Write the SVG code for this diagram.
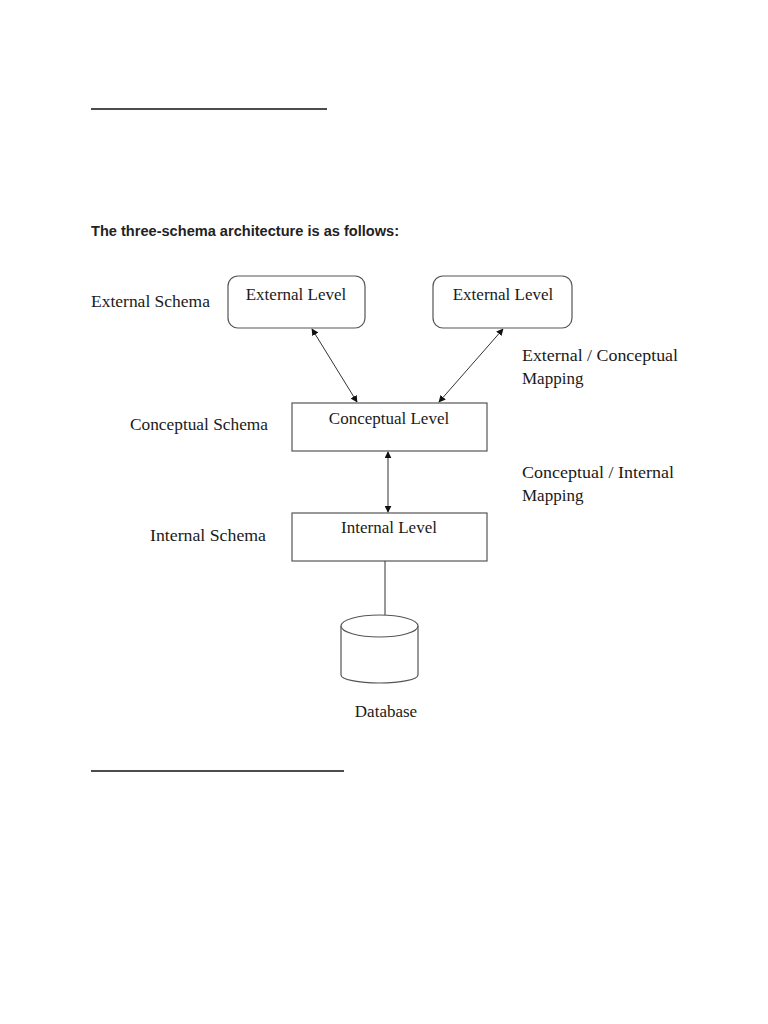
<svg xmlns="http://www.w3.org/2000/svg" width="768" height="1024" viewBox="0 0 768 1024">
<style>
.box{fill:#fff;stroke:#555;stroke-width:1.2}
.lbl{font-family:"Liberation Serif",serif;font-size:17px;fill:#1a1a1a}
.ctr{text-anchor:middle}
.con{stroke:#333;stroke-width:1;fill:none}
.rule{stroke:#111;stroke-width:1.6}
</style>
<defs>
<marker id="ah" viewBox="0 0 10 10" refX="9" refY="5" markerWidth="7" markerHeight="7" orient="auto-start-reverse" markerUnits="userSpaceOnUse">
<path d="M0,0 L10,5 L0,10 z" fill="#111"/>
</marker>
</defs>
<rect width="768" height="1024" fill="#fff"/>
<line class="rule" x1="91" y1="109" x2="327" y2="109"/>
<text x="91" y="236" font-family="'Liberation Sans',Arial,sans-serif" font-weight="bold" font-size="14.5" fill="#222" textLength="308" lengthAdjust="spacingAndGlyphs">The three-schema architecture is as follows:</text>
<text class="lbl" x="91" y="307" textLength="119" lengthAdjust="spacingAndGlyphs">External Schema</text>
<text class="lbl" x="522" y="361" textLength="156" lengthAdjust="spacingAndGlyphs">External / Conceptual</text>
<text class="lbl" x="522" y="384">Mapping</text>
<text class="lbl" x="130" y="430" textLength="138" lengthAdjust="spacingAndGlyphs">Conceptual Schema</text>
<text class="lbl" x="522" y="478" textLength="152" lengthAdjust="spacingAndGlyphs">Conceptual / Internal</text>
<text class="lbl" x="522" y="501">Mapping</text>
<text class="lbl" x="150" y="541" textLength="116" lengthAdjust="spacingAndGlyphs">Internal Schema</text>
<g id="ext1">
<rect class="box" x="228" y="276" width="137" height="52" rx="10"/>
<text class="lbl ctr" x="296" y="300">External Level</text>
</g>
<g id="ext2">
<rect class="box" x="433" y="276" width="139" height="52" rx="10"/>
<text class="lbl ctr" x="503" y="300">External Level</text>
</g>
<g id="conceptual">
<rect class="box" x="292" y="403" width="195" height="48"/>
<text class="lbl ctr" x="389" y="424">Conceptual Level</text>
</g>
<g id="internal">
<rect class="box" x="292" y="513" width="195" height="48"/>
<text class="lbl ctr" x="389" y="533">Internal Level</text>
</g>
<g id="database">
<path class="box" d="M341,626 L341,675 A38.5,8 0 0 0 418,675 L418,626"/>
<ellipse class="box" cx="379.5" cy="626" rx="38.5" ry="11"/>
<text class="lbl ctr" x="386" y="717">Database</text>
</g>
<g id="connectors">
<line class="con" x1="312" y1="329" x2="357" y2="402" marker-start="url(#ah)" marker-end="url(#ah)"/>
<line class="con" x1="503" y1="329" x2="439" y2="402" marker-start="url(#ah)" marker-end="url(#ah)"/>
<line class="con" x1="388" y1="452" x2="388" y2="512" marker-start="url(#ah)" marker-end="url(#ah)"/>
<line class="con" x1="385" y1="561" x2="385" y2="615"/>
</g>
<line class="rule" x1="91" y1="771" x2="344" y2="771"/>
</svg>
